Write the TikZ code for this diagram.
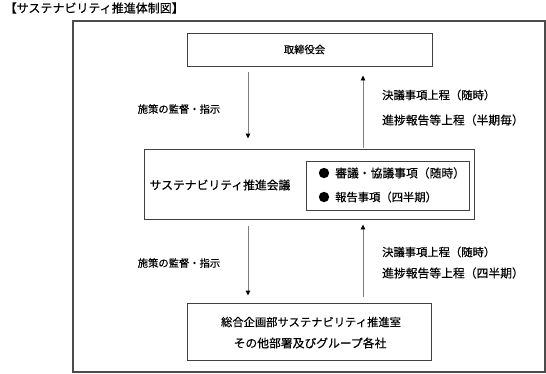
\documentclass[tikz,border=0pt]{standalone}
\usepackage{fontspec}
\setmainfont{Noto Sans CJK JP}[FakeBold=0.4]
\usetikzlibrary{arrows.meta}
\begin{document}
\begin{tikzpicture}[x=1pt,y=-1pt,
  every node/.style={font=\fontsize{10.3}{12}\selectfont, inner sep=0pt, text=black},
  fa/.style={font=\fontsize{11.3}{13}\selectfont},
  fb/.style={font=\fontsize{11.8}{13}\selectfont},
  boxline/.style={draw=black!75, line width=0.9pt},
  arr/.style={draw=black!50, line width=0.9pt, -{Triangle[width=4.5pt,length=5pt,color=black]}},
  lbl/.style={anchor=west}]
\useasboundingbox (0,0) rectangle (546,373);
\node[anchor=west, font=\fontsize{12}{14}\selectfont] (title) at (4.5,8) {【サステナビリティ推進体制図】};
\draw[draw=black!70, line width=1.3pt] (73,21) rectangle (545,372);
% boxes
\node[boxline, minimum width=245pt, minimum height=33pt] (top) at (309.5,49.5) {};
\node (toptxt) at (304.5,49.5) {取締役会};
\node[boxline, minimum width=330pt, minimum height=70pt] (mid) at (309,184) {};
\node[fb] (midtxt) at (220,185) {サステナビリティ推進会議};
\node[boxline, minimum width=163pt, minimum height=49pt] (inner) at (387.5,185.5) {};
\node[fa] (b1) at (324,173) {●};
\node[lbl, fb] (t1) at (335,173) {審議・協議事項（随時）};
\node[fa] (b2) at (324,197) {●};
\node[lbl, fa] (t2) at (335,197) {報告事項（四半期）};
\node[boxline, minimum width=244pt, minimum height=57pt] (bot) at (309,331.5) {};
\node[fa] (bt1) at (311,322) {総合企画部サステナビリティ推進室};
\node[fb] (bt2) at (310,343) {その他部署及びグループ各社};
% arrow columns
\coordinate (cl) at (248,0);
\coordinate (cr) at (363,0);
\draw[arr, shorten <=6pt, shorten >=10pt] (top.south -| cl) -- (mid.north -| cl);
\draw[arr, shorten <=1pt, shorten >=9pt] (mid.north -| cr) -- (top.south -| cr);
\draw[arr, shorten <=7pt, shorten >=7pt] (mid.south -| cl) -- (bot.north -| cl);
\draw[arr, shorten <=6pt, shorten >=5pt] (bot.north -| cr) -- (mid.south -| cr);
% labels
\node (l1) at (179,109) {施策の監督・指示};
\node[lbl, fa] (r1a) at (382,95) {決議事項上程（随時）};
\node[lbl, fb] (r1b) at (382,120) {進捗報告等上程（半期毎）};
\node (l2) at (179,263) {施策の監督・指示};
\node[lbl, fa] (r2a) at (382,252) {決議事項上程（随時）};
\node[lbl, fb] (r2b) at (382,273) {進捗報告等上程（四半期）};
\end{tikzpicture}
\end{document}
